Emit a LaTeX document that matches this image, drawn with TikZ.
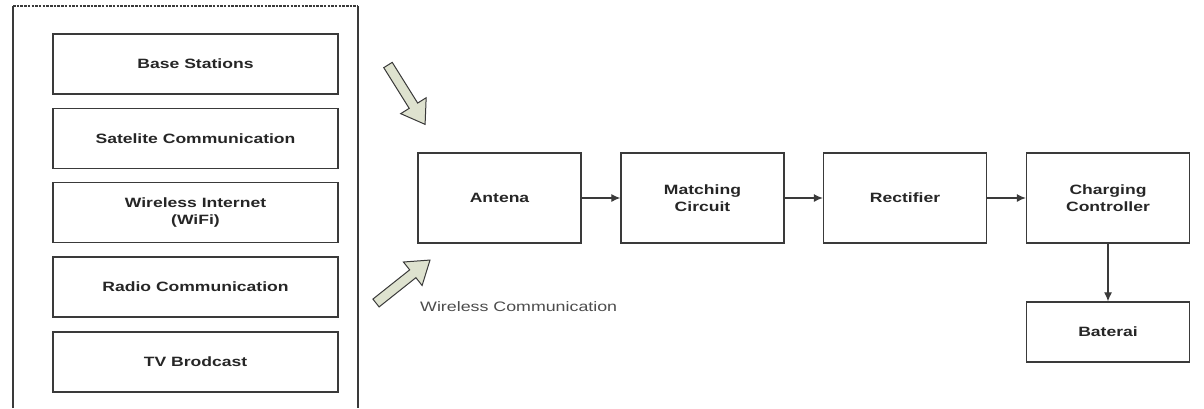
\documentclass[tikz,border=0pt]{standalone}
\usepackage{fontspec}
\newfontfamily\lab[FakeStretch=1.3]{Liberation Sans}
\usetikzlibrary{arrows.meta}
\definecolor{ln}{HTML}{3A3A3A}
\definecolor{bfill}{HTML}{DEE2CF}
\tikzset{
  srcbox/.style={draw=ln,line width=1.3pt,minimum width=285pt,minimum height=60pt,inner sep=0pt,align=center,font=\lab\fontsize{13.5}{17}\selectfont\bfseries,text=black!85},
  blk/.style={draw=ln,line width=1.3pt,minimum width=163pt,minimum height=90pt,inner sep=0pt,align=center,font=\lab\fontsize{13.5}{17}\selectfont\bfseries,text=black!85},
  conn/.style={draw=ln,line width=1.2pt,-{Latex[length=9pt,width=8pt]}},
  bigarrow/.style={draw=ln,fill=bfill,line width=1pt,line join=miter}
}
\begin{document}
\begin{tikzpicture}[x=1pt,y=-1pt]
\useasboundingbox (0,0) rectangle (1204,408);
% outer container
\draw[ln,line width=1.3pt] (13,408) -- (13,6);
\draw[ln,line width=1.3pt] (358,6) -- (358,408);
\draw[ln,line width=1.3pt,dash pattern=on 2.5pt off 1.2pt] (13,6) -- (358,6);
% source boxes
\node[srcbox] (bs) at (195.5,64) {Base Stations};
\node[srcbox] (sc) at (195.5,138.5) {Satelite Communication};
\node[srcbox] (wi) at (195.5,212.5) {Wireless Internet\\(WiFi)};
\node[srcbox] (rc) at (195.5,287) {Radio Communication};
\node[srcbox] (tv) at (195.5,362) {TV Brodcast};
% block arrows
\begin{scope}[shift={(388,65)},rotate=-58]
\draw[bigarrow] (0,-5) -- (48,-5) -- (48,-15) -- (70,0) -- (48,15) -- (48,5) -- (0,5) -- cycle;
\end{scope}
\begin{scope}[shift={(376,303)},rotate=38.5]
\draw[bigarrow] (0,-5) -- (47,-5) -- (47,-15) -- (69,0) -- (47,15) -- (47,5) -- (0,5) -- cycle;
\end{scope}
\node[font=\lab\fontsize{13.7}{15}\selectfont,text=black!70,anchor=west,inner sep=0pt] (wc) at (420,307) {Wireless Communication};
% chain
\node[blk] (ant) at (499.5,198) {Antena};
\node[blk] (mc) at (702.5,198) {Matching\\Circuit};
\node[blk] (rect) at (905,198) {Rectifier};
\node[blk] (cc) at (1108,198) {Charging\\Controller};
\node[blk,minimum height=60pt] (bat) at (1108,332) {Baterai};
\draw[conn] (ant) -- (mc);
\draw[conn] (mc) -- (rect);
\draw[conn] (rect) -- (cc);
\draw[conn] (cc) -- (bat);
\end{tikzpicture}
\end{document}
